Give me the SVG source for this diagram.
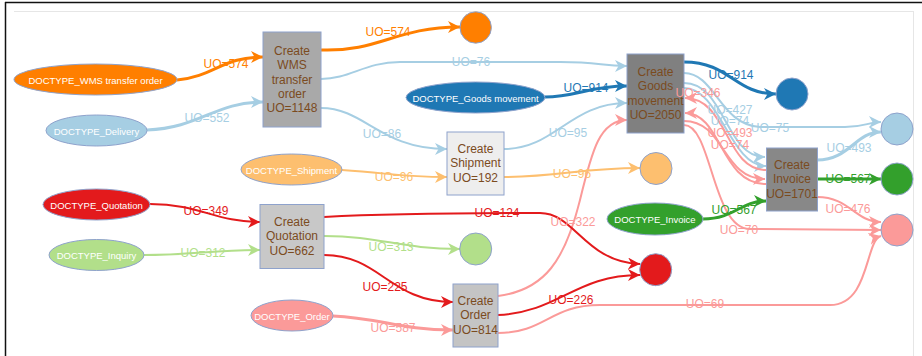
<svg xmlns="http://www.w3.org/2000/svg" width="922" height="356" viewBox="0 0 922 356">
<style>
.e{fill:none;stroke-width:2}
.t{stroke-width:3}
.lb{stroke:#a6cee3}.b{stroke:#1f78b4}.lg{stroke:#b2df8a}.g{stroke:#33a02c}
.lr{stroke:#fb9a99}.r{stroke:#e31a1c}.lo{stroke:#fdbf6f}.o{stroke:#ff7f00}
.ml text{font-family:"Liberation Sans",Arial,sans-serif;font-size:12px;text-anchor:middle;dominant-baseline:central}
.n{stroke:#8ea2cc;stroke-width:1}
.nt{font-family:"Liberation Sans",Arial,sans-serif;font-size:12px;fill:#7b4b1e;text-anchor:middle;dominant-baseline:central}
.dt{font-family:"Liberation Sans",Arial,sans-serif;font-size:9.5px;fill:#ffffff;text-anchor:middle;dominant-baseline:central}
</style>
<defs>
<marker id="a-lb" markerUnits="userSpaceOnUse" markerWidth="13" markerHeight="12" refX="12" refY="6" orient="auto"><path d="M0,0 L12,6 L0,12 L3.5,6 z" fill="#a6cee3"/></marker>
<marker id="a-b" markerUnits="userSpaceOnUse" markerWidth="13" markerHeight="12" refX="12" refY="6" orient="auto"><path d="M0,0 L12,6 L0,12 L3.5,6 z" fill="#1f78b4"/></marker>
<marker id="a-lg" markerUnits="userSpaceOnUse" markerWidth="13" markerHeight="12" refX="12" refY="6" orient="auto"><path d="M0,0 L12,6 L0,12 L3.5,6 z" fill="#b2df8a"/></marker>
<marker id="a-g" markerUnits="userSpaceOnUse" markerWidth="13" markerHeight="12" refX="12" refY="6" orient="auto"><path d="M0,0 L12,6 L0,12 L3.5,6 z" fill="#33a02c"/></marker>
<marker id="a-lr" markerUnits="userSpaceOnUse" markerWidth="13" markerHeight="12" refX="12" refY="6" orient="auto"><path d="M0,0 L12,6 L0,12 L3.5,6 z" fill="#fb9a99"/></marker>
<marker id="a-r" markerUnits="userSpaceOnUse" markerWidth="13" markerHeight="12" refX="12" refY="6" orient="auto"><path d="M0,0 L12,6 L0,12 L3.5,6 z" fill="#e31a1c"/></marker>
<marker id="a-lo" markerUnits="userSpaceOnUse" markerWidth="13" markerHeight="12" refX="12" refY="6" orient="auto"><path d="M0,0 L12,6 L0,12 L3.5,6 z" fill="#fdbf6f"/></marker>
<marker id="a-o" markerUnits="userSpaceOnUse" markerWidth="13" markerHeight="12" refX="12" refY="6" orient="auto"><path d="M0,0 L12,6 L0,12 L3.5,6 z" fill="#ff7f00"/></marker>
</defs>
<rect x="0" y="0" width="922" height="356" fill="#ffffff"/>
<g id="frame">
<line x1="5" y1="2.5" x2="922" y2="2.5" stroke="#111" stroke-width="1.5"/>
<line x1="5.5" y1="2" x2="5.5" y2="356" stroke="#111" stroke-width="1.5"/>
<line x1="14" y1="11.5" x2="913" y2="11.5" stroke="#e6e6e6" stroke-width="1"/>
<line x1="913.5" y1="11" x2="913.5" y2="356" stroke="#e6e6e6" stroke-width="1"/>
</g>
<g id="connectors">
<path class="e t o" d="M177,80 C215,76 222,57 263,57" marker-end="url(#a-o)"/>
<path class="e t lb" d="M147,130 C200,128 215,102 263,102" marker-end="url(#a-lb)"/>
<path class="e t o" d="M321,50 C380,52 395,27 460,27" marker-end="url(#a-o)"/>
<path class="e lb" d="M321,79 C350,79 365,62 400,62 L560,62 C600,62 600,66 627,66" marker-end="url(#a-lb)"/>
<path class="e lb" d="M321,108 C365,108 380,149 447,149" marker-end="url(#a-lb)"/>
<path class="e t b" d="M545,97 C575,97 590,86 627,86" marker-end="url(#a-b)"/>
<path class="e lb" d="M504,149 C555,149 570,103 627,103" marker-end="url(#a-lb)"/>
<path class="e lr" d="M498,296 C545,290 565,260 580,200 C592,150 600,120 627,120" marker-end="url(#a-lr)"/>
<path class="e lo" d="M342,170 C390,173 400,177 447,177" marker-end="url(#a-lo)"/>
<path class="e lo" d="M504,177 C560,177 580,168 640,168" marker-end="url(#a-lo)"/>
<path class="e r" d="M150,204 C200,204 215,222 260,222" marker-end="url(#a-r)"/>
<path class="e lg" d="M144,255 C190,255 215,250 260,250" marker-end="url(#a-lg)"/>
<path class="e r" d="M324,217 C400,213 480,213 540,213 C575,213 585,262 640,264" marker-end="url(#a-r)"/>
<path class="e lg" d="M324,236 C380,236 400,249 460,249" marker-end="url(#a-lg)"/>
<path class="e r" d="M324,255 C380,255 390,302 453,302" marker-end="url(#a-r)"/>
<path class="e t lr" d="M333,316 C380,318 400,330 453,330" marker-end="url(#a-lr)"/>
<path class="e r" d="M498,315 C560,312 575,275 640,275" marker-end="url(#a-r)"/>
<path class="e lr" d="M498,333 C545,333 550,305 600,305 L830,305 C870,305 865,240 881,236" marker-end="url(#a-lr)"/>
<path class="e t b" d="M684,62 C730,62 735,94 776,94" marker-end="url(#a-b)"/>
<path class="e lb" d="M684,73 C715,73 720,125 760,127 L845,127 C865,127 868,122 881,122" marker-end="url(#a-lb)"/>
<path class="e lb" d="M684,83 C725,83 725,157 765,157" marker-end="url(#a-lb)"/>
<path class="e lb" d="M684,88 C720,88 730,166 766,166" marker-end="url(#a-lb)"/>
<path class="e lr" d="M766,170 C725,170 728,98 685,98" marker-end="url(#a-lr)"/>
<path class="e lr" d="M766,184 C720,184 722,113 685,113" marker-end="url(#a-lr)"/>
<path class="e lr" d="M684,121 C725,121 722,179 765,179" marker-end="url(#a-lr)"/>
<path class="e lr" d="M684,125 C712,125 712,229 750,229 L881,230" marker-end="url(#a-lr)"/>
<path class="e lr" d="M817,197 C850,197 855,222 881,222" marker-end="url(#a-lr)"/>
<path class="e t g" d="M703,219 C735,219 740,201 766,201" marker-end="url(#a-g)"/>
<path class="e t g" d="M817,179 L881,179" marker-end="url(#a-g)"/>
<path class="e t lb" d="M817,160 C850,160 855,132 881,132" marker-end="url(#a-lb)"/>
</g>
<g id="n-wms-doc"><ellipse class="n" cx="95.5" cy="79.5" rx="81.5" ry="15.5" fill="#ff7f00"/><text class="dt" x="95.5" y="80">DOCTYPE_WMS transfer order</text></g>
<g id="n-delivery-doc"><ellipse class="n" cx="96.5" cy="130.5" rx="50.5" ry="15.5" fill="#a6cee3"/><text class="dt" x="96.5" y="131">DOCTYPE_Delivery</text></g>
<g id="n-shipment-doc"><ellipse class="n" cx="291.5" cy="169.5" rx="50.5" ry="15.5" fill="#fdbf6f"/><text class="dt" x="291.5" y="170">DOCTYPE_Shipment</text></g>
<g id="n-goods-doc"><ellipse class="n" cx="475.5" cy="97.5" rx="69.5" ry="15.5" fill="#1f78b4"/><text class="dt" x="475.5" y="98">DOCTYPE_Goods movement</text></g>
<g id="n-quotation-doc"><ellipse class="n" cx="96.5" cy="204.5" rx="53.5" ry="15.5" fill="#e31a1c"/><text class="dt" x="96.5" y="205">DOCTYPE_Quotation</text></g>
<g id="n-inquiry-doc"><ellipse class="n" cx="96.5" cy="255" rx="47.5" ry="15.5" fill="#b2df8a"/><text class="dt" x="96.5" y="255.5">DOCTYPE_Inquiry</text></g>
<g id="n-order-doc"><ellipse class="n" cx="292" cy="315.5" rx="41" ry="15.5" fill="#fb9a99"/><text class="dt" x="292" y="316">DOCTYPE_Order</text></g>
<g id="n-invoice-doc"><ellipse class="n" cx="655" cy="219" rx="48" ry="16" fill="#33a02c"/><text class="dt" x="655" y="219.5">DOCTYPE_Invoice</text></g>
<g id="a-wms"><rect class="n" x="263" y="32" width="58" height="95" fill="#a9a9a9"/><text class="nt" x="292" y="51">Create</text><text class="nt" x="292" y="65.3">WMS</text><text class="nt" x="292" y="79.6">transfer</text><text class="nt" x="292" y="93.9">order</text><text class="nt" x="292" y="108.2">UO=1148</text></g>
<g id="a-shipment"><rect class="n" x="447" y="132" width="57" height="63" fill="#eeeeee"/><text class="nt" x="475.5" y="149">Create</text><text class="nt" x="475.5" y="163.3">Shipment</text><text class="nt" x="475.5" y="177.6">UO=192</text></g>
<g id="a-goods"><rect class="n" x="627" y="54" width="57" height="79" fill="#808080"/><text class="nt" x="655.5" y="72">Create</text><text class="nt" x="655.5" y="86.3">Goods</text><text class="nt" x="655.5" y="100.6">movement</text><text class="nt" x="655.5" y="114.9">UO=2050</text></g>
<g id="a-quotation"><rect class="n" x="260" y="204.5" width="64" height="64" fill="#c8c8c8"/><text class="nt" x="292" y="222">Create</text><text class="nt" x="292" y="236.3">Quotation</text><text class="nt" x="292" y="250.6">UO=662</text></g>
<g id="a-order"><rect class="n" x="453" y="284" width="45" height="63" fill="#c4c4c4"/><text class="nt" x="475.5" y="301">Create</text><text class="nt" x="475.5" y="315.3">Order</text><text class="nt" x="475.5" y="329.6">UO=814</text></g>
<g id="a-invoice"><rect class="n" x="766.5" y="148" width="51" height="63" fill="#888888"/><text class="nt" x="792" y="165">Create</text><text class="nt" x="792" y="179.3">Invoice</text><text class="nt" x="792" y="193.6">UO=1701</text></g>
<g id="s-orange"><circle class="n" cx="475.7" cy="27.5" r="15.7" fill="#ff7f00"/></g>
<g id="s-blue"><circle class="n" cx="792" cy="94" r="16" fill="#1f78b4"/></g>
<g id="s-lightblue"><circle class="n" cx="897" cy="129" r="16" fill="#a6cee3"/></g>
<g id="s-green"><circle class="n" cx="897" cy="179" r="16" fill="#33a02c"/></g>
<g id="s-lightred"><circle class="n" cx="897" cy="230" r="16" fill="#fb9a99"/></g>
<g id="s-lightorange"><circle class="n" cx="656" cy="168.5" r="16" fill="#fdbf6f"/></g>
<g id="s-lightgreen"><circle class="n" cx="475.7" cy="249" r="16" fill="#b2df8a"/></g>
<g id="s-red"><circle class="n" cx="655.7" cy="269.7" r="16" fill="#e31a1c"/></g>
<g id="connector-labels" class="ml">
<text x="226" y="64" fill="#ff7f00">UO=574</text>
<text x="207" y="118" fill="#a6cee3">UO=552</text>
<text x="388" y="32" fill="#ff7f00">UO=574</text>
<text x="471" y="62" fill="#a6cee3">UO=76</text>
<text x="382" y="134" fill="#a6cee3">UO=86</text>
<text x="586" y="88" fill="#1f78b4">UO=914</text>
<text x="568" y="133" fill="#a6cee3">UO=95</text>
<text x="394" y="177" fill="#fdbf6f">UO=96</text>
<text x="572" y="174" fill="#fdbf6f">UO=96</text>
<text x="206" y="211" fill="#e31a1c">UO=349</text>
<text x="203" y="253" fill="#b2df8a">UO=312</text>
<text x="497" y="213" fill="#e31a1c">UO=124</text>
<text x="573" y="222" fill="#fb9a99">UO=322</text>
<text x="391" y="247" fill="#b2df8a">UO=313</text>
<text x="385" y="287" fill="#e31a1c">UO=225</text>
<text x="393" y="328" fill="#fb9a99">UO=587</text>
<text x="571" y="300" fill="#e31a1c">UO=226</text>
<text x="705" y="304" fill="#fb9a99">UO=69</text>
<text x="731" y="75" fill="#1f78b4">UO=914</text>
<text x="698" y="93" fill="#fb9a99">UO=346</text>
<text x="730" y="109.5" fill="#a6cee3">UO=427</text>
<text x="730" y="121" fill="#a6cee3">UO=74</text>
<text x="770" y="128" fill="#a6cee3">UO=75</text>
<text x="730" y="133" fill="#fb9a99">UO=493</text>
<text x="730" y="145" fill="#fb9a99">UO=74</text>
<text x="849" y="148" fill="#a6cee3">UO=493</text>
<text x="848" y="179" fill="#33a02c">UO=567</text>
<text x="848" y="209" fill="#fb9a99">UO=476</text>
<text x="734" y="210" fill="#33a02c">UO=567</text>
<text x="739" y="230" fill="#fb9a99">UO=70</text>
</g>
</svg>
